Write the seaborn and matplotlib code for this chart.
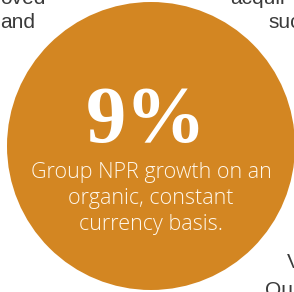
import matplotlib
matplotlib.use("Agg")
import matplotlib.pyplot as plt
from matplotlib.patches import Circle
import seaborn as sns

# headline figure and caption
headline = "9%"
caption_lines = ["Group NPR growth on an", "organic, constant", "currency basis."]

# fragments of surrounding body copy cut off by the crop
side_text = ["oved", "and", "acquir", "suc", "V", "Qu"]

sns.set_theme(style="white")

fig = plt.figure(figsize=(2.94, 2.92), dpi=100)
ax = fig.add_axes([0, 0, 1, 1])
ax.set_xlim(0, 294)
ax.set_ylim(292, 0)
ax.axis("off")

ax.add_patch(Circle((151, 146), 144, color="#D38622", lw=0))

ax.text(146, 142, headline, ha="center", va="baseline", color="white",
        fontsize=58, fontweight="bold", family="Liberation Serif")

for i, line in enumerate(caption_lines):
    ax.text(151, 178 + i * 26, line, ha="center", va="baseline",
            color="#FFF8EC", fontsize=15.5, family="Open Sans", fontweight="light")

grey = "#3a3a3a"
pos = [(0, 4), (0, 28), (230, 4), (268, 28), (287, 268), (265, 296)]
for t, (x, y) in zip(side_text, pos):
    ax.text(x, y, t, ha="left", va="baseline", color=grey, fontsize=15,
            family="Liberation Sans")

fig.savefig("out.png", dpi=100)
